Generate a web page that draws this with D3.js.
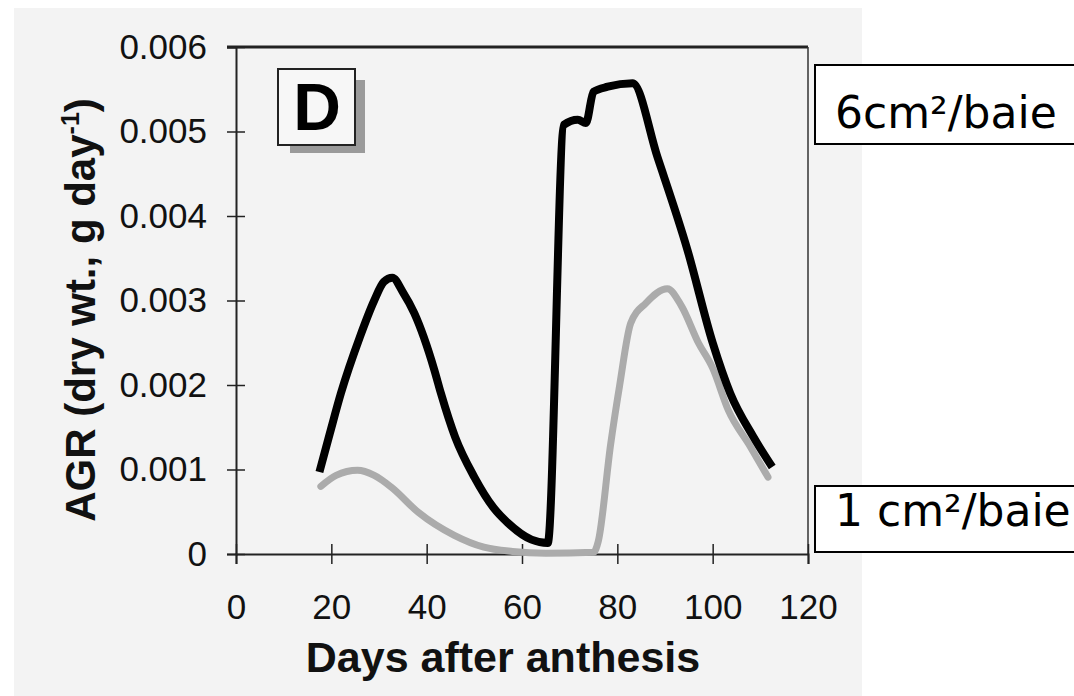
<!DOCTYPE html>
<html>
<head>
<meta charset="utf-8">
<script src="https://cdn.jsdelivr.net/npm/d3@7"></script>
<style>
  body { margin: 0; background: #ffffff; }
  svg text { font-family: "Liberation Sans", Arial, sans-serif; }
</style>
</head>
<body>
<div id="chart"></div>
<script>

// data (days after anthesis, AGR)
var daysLarge = [17.5, 19.7, 22, 26, 29, 31, 32.8, 35, 37.4, 41.6, 43, 46, 50, 54, 57, 62, 65.4,
  68.8, 71.7, 73.4, 75, 78, 83.2, 88.4, 94.7, 100, 103.7, 108.5, 112.5];
var agrLarge = [0.00097, 0.00143, 0.0019, 0.00257, 0.0030, 0.00322, 0.00327, 0.0031, 0.00285, 0.00218, 0.0019, 0.00138, 0.00091, 0.00055, 0.00037, 0.00017, 0.00013,
  0.00508, 0.00514, 0.0051, 0.00547, 0.00553, 0.00557, 0.0047, 0.0036, 0.0025, 0.0019, 0.00139, 0.00103];

var daysSmall = [17.8, 21, 25.5, 29, 32.6, 38.3, 45.8, 52, 58, 65, 75, 76, 78.6, 80.5, 82.8, 86, 90.5, 93.5, 97, 100, 103.3, 107.9, 111.6];
var agrSmall = [0.0008, 0.00093, 0.00099, 0.00093, 0.00079, 0.00049, 0.00022, 0.00008, 0.00003, 0.00001, 0.00002, 0.00015, 0.0013, 0.002, 0.00273, 0.00297, 0.00314, 0.00293, 0.0025, 0.0022, 0.0017, 0.00127, 0.00091];

var xTicks = [0, 20, 40, 60, 80, 100, 120];
var yTicks = [0, 0.001, 0.002, 0.003, 0.004, 0.005, 0.006];

var panelLetter = "D";
var labelLarge = "6cm²/baie";
var labelSmall = "1 cm²/baie";


var width = 1074, height = 696;
var margin = {left: 236, right: 266, top: 47, bottom: 142};

var svg = d3.select("#chart").append("svg")
  .attr("width", width).attr("height", height);

// scanned page background
svg.append("rect").attr("x", 14).attr("y", 8).attr("width", 848).attr("height", height - 8)
  .attr("fill", "#f3f3f3");

var x = d3.scaleLinear().domain([0, 120]).range([margin.left, width - margin.right]);
var y = d3.scaleLinear().domain([0, 0.006]).range([height - margin.bottom, margin.top]);

// frame top and right
svg.append("line").attr("x1", x(0) - 9).attr("x2", x(120)).attr("y1", y(0.006)).attr("y2", y(0.006))
  .attr("stroke", "#222").attr("stroke-width", 3);
svg.append("line").attr("x1", x(120)).attr("x2", x(120)).attr("y1", y(0.006)).attr("y2", y(0))
  .attr("stroke", "#333").attr("stroke-width", 1.5);

var axisX = svg.append("g").attr("transform", "translate(0," + y(0) + ")")
  .call(d3.axisBottom(x).tickValues(xTicks).tickSize(10).tickPadding(30));
axisX.selectAll(".tick line").attr("y1", -10);

var axisY = svg.append("g").attr("transform", "translate(" + x(0) + ",0)")
  .call(d3.axisLeft(y).tickValues(yTicks).tickSize(9).tickPadding(20)
    .tickFormat(function(d){ return d === 0 ? "0" : d3.format(".3f")(d); }));
axisY.selectAll(".tick line").attr("x1", 9);

svg.selectAll(".domain").attr("stroke", "#222").attr("stroke-width", 2);
svg.selectAll(".tick line").attr("stroke", "#222").attr("stroke-width", 1.5);
svg.selectAll(".tick text").attr("font-size", 35).attr("fill", "#111");

svg.append("text").attr("x", 503).attr("y", 672).attr("text-anchor", "middle")
  .attr("font-size", 43).attr("font-weight", "bold").attr("fill", "#111")
  .text("Days after anthesis");

var yTitle = svg.append("text")
  .attr("transform", "translate(95," + 310 + ") rotate(-90)")
  .attr("text-anchor", "middle").attr("font-size", 42).attr("font-weight", "bold").attr("fill", "#111");
yTitle.append("tspan").text("AGR (dry wt., g day");
yTitle.append("tspan").attr("font-size", 25).attr("dy", -16).text("-1");
yTitle.append("tspan").attr("dy", 16).text(")");

// panel letter with its shadow
svg.append("rect").attr("x", 290).attr("y", 80).attr("width", 75).attr("height", 73).attr("fill", "#9a9a9a");
svg.append("rect").attr("x", 278).attr("y", 69).attr("width", 77).attr("height", 76)
  .attr("fill", "#f7f7f7").attr("stroke", "#222").attr("stroke-width", 2);
svg.append("text").attr("x", 317).attr("y", 130).attr("text-anchor", "middle")
  .attr("font-size", 66).attr("font-weight", "bold").attr("fill", "#000").text(panelLetter);

var line = d3.line().curve(d3.curveMonotoneX)
  .x(function(d){ return x(d[0]); })
  .y(function(d){ return y(d[1]); });

svg.append("path").datum(d3.zip(daysSmall, agrSmall))
  .attr("d", line).attr("fill", "none").attr("stroke", "#ababab").attr("stroke-width", 7)
  .attr("stroke-linejoin", "round").attr("stroke-linecap", "round");

svg.append("path").datum(d3.zip(daysLarge, agrLarge))
  .attr("d", line).attr("fill", "none").attr("stroke", "#000").attr("stroke-width", 8)
  .attr("stroke-linejoin", "round");

// label boxes on the right
function labelBox(text, top, bottom, baseline){
  svg.append("rect").attr("x", 815).attr("y", top).attr("width", 280).attr("height", bottom - top)
    .attr("fill", "#fff").attr("stroke", "#000").attr("stroke-width", 2);
  svg.append("text").attr("x", 835).attr("y", baseline)
    .style("font-family", '"Comic Sans MS", "DejaVu Sans", sans-serif')
    .attr("font-size", 44).attr("fill", "#000").text(text);
}
labelBox(labelLarge, 65, 144, 128);
labelBox(labelSmall, 486, 552, 526);

</script>
</body>
</html>
